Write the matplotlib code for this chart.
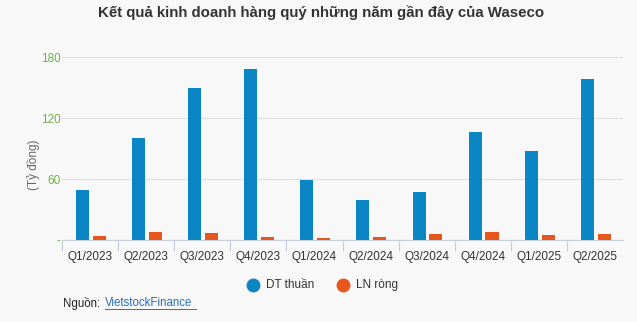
import numpy as np
import matplotlib.pyplot as plt

quarters = ["Q1/2023", "Q2/2023", "Q3/2023", "Q4/2023", "Q1/2024",
            "Q2/2024", "Q3/2024", "Q4/2024", "Q1/2025", "Q2/2025"]
dt_thuan = [49, 100, 150, 168, 59, 39, 47, 106, 88, 159]
ln_rong = [4.3, 8, 7, 3, 2, 3, 6, 8, 5, 6]
yticks = [0, 60, 120, 180]
ytick_labels = ["-", "60", "120", "180"]

blue = "#0a86c4"
orange = "#e8561e"
bg = "#f8f8f8"

plt.rcParams['font.family'] = ['Liberation Sans', 'DejaVu Sans']

fig = plt.figure(figsize=(6.37, 3.22), dpi=100, facecolor=bg)
ax = fig.add_axes([62/637, 1 - 240/322, (623 - 62)/637, 200/322])
ax.set_facecolor(bg)

x = np.arange(len(quarters))
w = 0.232
ax.bar(x - 0.135, dt_thuan, width=w, color=blue, zorder=3)
ax.bar(x + 0.165, ln_rong, width=w, color=orange, zorder=3)

ax.set_xlim(-0.5, len(quarters) - 0.5)
ax.set_ylim(0, 197)
ax.set_yticks(yticks)
ax.set_yticklabels(ytick_labels, color="#6db24f", fontsize=8.5)
ax.tick_params(axis='y', length=0, pad=1)
ax.grid(axis='y', color="#e0e0e0", linewidth=0.8, zorder=0)

ax.set_xticks(x)
ax.set_xticklabels(quarters, fontsize=8.5, color="#333333")
ax.set_xticks(np.arange(len(quarters)) - 0.5, minor=True)
ax.tick_params(axis='x', which='major', length=0, pad=8)
ax.tick_params(axis='x', which='minor', length=8, color="#c8d0dc", width=0.8)

for s in ['top', 'right', 'left']:
    ax.spines[s].set_visible(False)
ax.spines['bottom'].set_color("#c8d0dc")
ax.spines['bottom'].set_linewidth(0.8)

fig.text(33/637, 1 - 165/322, "(Tỷ đồng)", rotation=90, ha='center', va='center',
         fontsize=8.5, color="#666666")
fig.text(321/637, 1 - 13/322, "Kết quả kinh doanh hàng quý những năm gần đây của Waseco",
         ha='center', va='center', fontsize=10.8, fontweight='bold', color="#333333")

# legend
ly = 1 - 285/322
fig.lines.append(plt.Line2D([253/637], [ly], marker='o', markersize=9, color=blue,
                            transform=fig.transFigure))
fig.text(266/637, ly, "DT thuần", va='center', fontsize=8.5, color="#333333")
fig.lines.append(plt.Line2D([343/637], [ly], marker='o', markersize=9, color=orange,
                            transform=fig.transFigure))
fig.text(356/637, ly, "LN ròng", va='center', fontsize=8.5, color="#333333")

# source
sy = 1 - 303/322
fig.text(63/637, sy, "Nguồn: ", va='center', fontsize=8.3, color="#222222")
fig.text(105/637, sy, "VietstockFinance", va='center', fontsize=8.3, color="#2a6fc0")
fig.lines.append(plt.Line2D([105/637, 196/637], [sy - 0.02, sy - 0.02], color="#2a6fc0",
                            linewidth=0.7, transform=fig.transFigure))

fig.savefig("out.png", dpi=100, facecolor=bg)
